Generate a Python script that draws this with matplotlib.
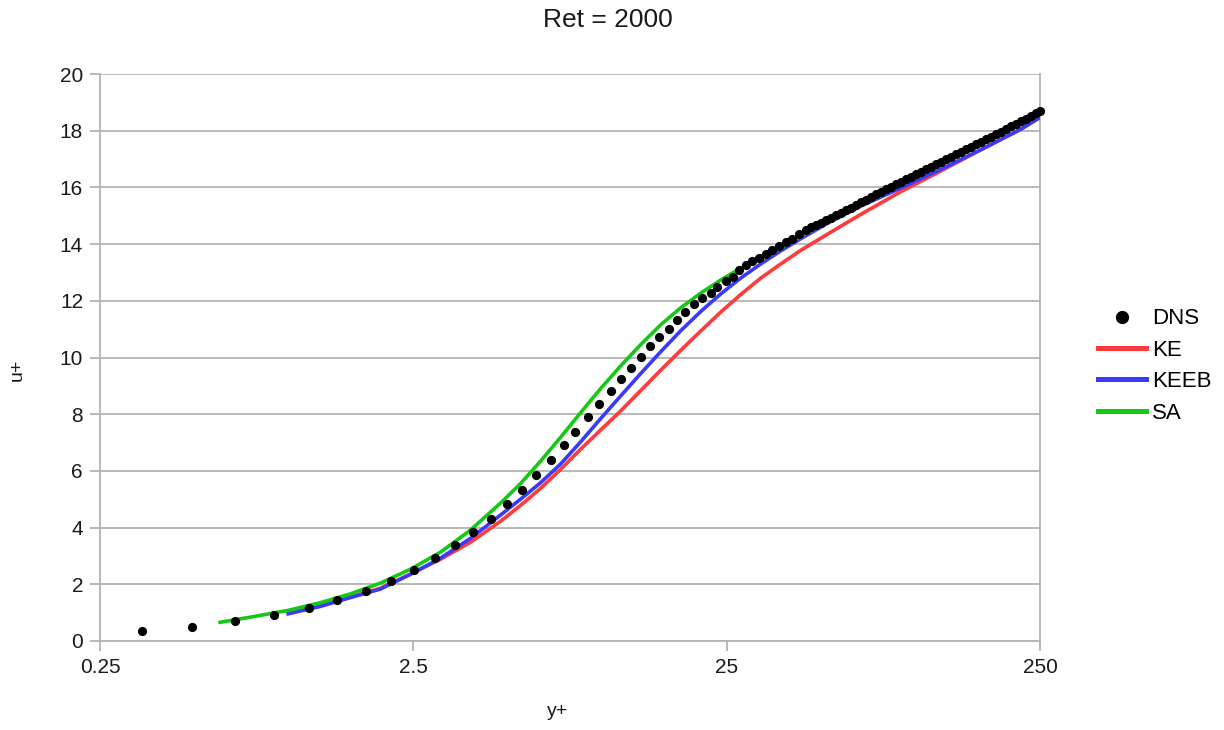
import matplotlib
matplotlib.use("Agg")
import matplotlib.pyplot as plt
from matplotlib.lines import Line2D

plt.rcParams['font.family'] = ['Liberation Sans', 'DejaVu Sans']

title = "Ret = 2000"
x_ticks = [0.25, 2.5, 25, 250]
x_tick_labels = ["0.25", "2.5", "25", "250"]
y_ticks = [0, 2, 4, 6, 8, 10, 12, 14, 16, 18, 20]

dns_y = [0.34, 0.49, 0.675, 0.90, 1.16, 1.43, 1.76, 2.12, 2.51, 2.94, 3.39, 3.88, 4.41,
         4.98, 5.57, 6.18, 6.87, 7.55, 8.23, 9.01, 9.80, 10.65, 11.46, 12.34, 13.37,
         14.22, 15.25, 16.32, 17.3, 18.41, 19.61, 20.9, 22.2, 23.35, 24.8, 26.1, 27.4,
         28.75, 30.2, 31.7, 33.3, 35.0, 36.7, 38.6, 40.5, 42.6,
         44.72, 46.40, 48.14, 49.94, 51.82, 53.76, 55.78, 57.87, 60.04, 62.29, 64.63,
         67.05, 69.57, 72.18, 74.88, 77.69, 80.61, 83.63, 86.77, 90.02, 93.40, 96.90,
         100.5, 104.3, 108.2, 112.3, 116.5, 120.9, 125.4, 130.1, 135.0, 140.1, 145.3,
         150.8, 156.4, 162.3, 168.4, 174.7, 181.2, 188.0, 195.1, 202.4, 210.0, 217.9,
         226.1, 234.5, 243.3, 250.0]
dns_u = [0.36, 0.50, 0.70, 0.91, 1.16, 1.43, 1.77, 2.13, 2.52, 2.94, 3.37, 3.85, 4.31,
         4.83, 5.33, 5.86, 6.40, 6.91, 7.38, 7.89, 8.35, 8.82, 9.24, 9.64, 10.01,
         10.41, 10.72, 11.02, 11.31, 11.60, 11.88, 12.11, 12.29, 12.50, 12.70, 12.85, 13.09,
         13.27, 13.40, 13.52, 13.66, 13.80, 13.93, 14.06, 14.19, 14.35,
         14.50, 14.59, 14.67, 14.76, 14.84, 14.93, 15.01, 15.10, 15.19, 15.29, 15.38,
         15.48, 15.57, 15.66, 15.76, 15.85, 15.94, 16.03, 16.11, 16.20, 16.29, 16.38,
         16.46, 16.55, 16.64, 16.73, 16.82, 16.90, 16.99, 17.08, 17.17, 17.26, 17.34,
         17.43, 17.52, 17.61, 17.70, 17.78, 17.87, 17.96, 18.05, 18.15, 18.24, 18.34,
         18.43, 18.52, 18.62, 18.71]

# model curves: y+ samples shared by the three model lines
model_y = [0.9968, 1.2613, 1.5726, 1.9610, 2.4454, 3.0497, 3.8025, 4.7417, 5.4933,
           6.3633, 7.3725, 8.5417, 9.8945, 11.463, 13.280, 15.386, 17.823, 20.649,
           23.921, 27.713, 32.107, 37.195, 43.09, 53.73, 67.0, 89.9, 120.7, 162.0,
           217.4, 250.0]

ke_u = [0.98, 1.24, 1.55, 1.86, 2.36, 2.88, 3.48, 4.22, 4.78, 5.38, 6.05, 6.76, 7.44,
        8.11, 8.83, 9.55, 10.25, 10.93, 11.60, 12.22, 12.80, 13.30, 13.78, 14.42, 15.05,
        15.85, 16.58, 17.33, 18.05, 18.47]

keeb_u = [0.96, 1.22, 1.53, 1.83, 2.35, 2.92, 3.62, 4.44, 5.00, 5.58, 6.24, 7.02, 7.84,
          8.64, 9.43, 10.20, 10.94, 11.62, 12.24, 12.80, 13.30, 13.76, 14.19, 14.80, 15.34,
          15.98, 16.64, 17.33, 18.06, 18.47]

sa_y = [0.6042, 0.7537] + model_y
sa_u = [0.66, 0.84, 1.08, 1.35, 1.66, 2.04, 2.53, 3.13, 3.91, 4.86, 5.55, 6.34, 7.18,
        8.05, 8.90, 9.70, 10.45, 11.15, 11.75, 12.27, 12.73, 13.15, 13.55, 13.92, 14.28,
        14.83, 15.42, 16.12, 16.83, 17.53, 18.27, 18.63]

c_ke = '#ff3b3b'
c_keeb = '#3a3aff'
c_sa = '#14c814'
grid_c = '#b3b3b3'
txt_c = '#1a1a1a'

fig = plt.figure(figsize=(12.24, 7.30), dpi=100)
ax = fig.add_axes([100 / 1224, 1 - 641 / 730, 940 / 1224, 567 / 730])

lw = 2.6
ax.plot(model_y, ke_u, color=c_ke, lw=lw, zorder=3, solid_joinstyle='round')
ax.plot(model_y, keeb_u, color=c_keeb, lw=lw, zorder=3.1, solid_joinstyle='round')
ax.plot(sa_y, sa_u, color=c_sa, lw=lw, zorder=3.2, solid_joinstyle='round')
ax.plot(dns_y, dns_u, linestyle='none', marker='o', markersize=5.6,
        color='black', zorder=4, clip_on=False)

ax.set_xscale('log')
ax.set_xlim(0.25, 250)
ax.set_ylim(0, 20)
ax.set_xticks(x_ticks)
ax.set_xticklabels(x_tick_labels)
ax.xaxis.set_minor_locator(matplotlib.ticker.NullLocator())
ax.set_yticks(y_ticks)

ax.grid(axis='y', color=grid_c, lw=1.3, zorder=0)
ax.set_axisbelow(True)
ax.spines['top'].set_visible(False)
for s in ['left', 'bottom', 'right']:
    ax.spines[s].set_color(grid_c)
    ax.spines[s].set_linewidth(1.3)
ax.tick_params(axis='both', colors=grid_c, length=7.2, width=1.3, labelcolor=txt_c,
               labelsize=15, direction='out', pad=5)
ax.tick_params(axis='y', right=False)

fig.text(608 / 1224, 1 - 20 / 730, title, ha='center', va='center', fontsize=19, color=txt_c)
fig.text(17 / 1224, 1 - 370 / 730, 'u+', ha='center', va='center', rotation=90,
         fontsize=14, color=txt_c)
fig.text(558 / 1224, 1 - 712 / 730, 'y+', ha='center', va='center', fontsize=14,
         color=txt_c)

handles = [Line2D([], [], linestyle='none', marker='o', markersize=8.5, color='black'),
           Line2D([], [], color=c_ke, lw=3.6),
           Line2D([], [], color=c_keeb, lw=3.6),
           Line2D([], [], color=c_sa, lw=3.6)]
labels = ['DNS', 'KE', 'KEEB', 'SA']
fig.legend(handles, labels, loc='center left', bbox_to_anchor=(1098 / 1224, 1 - 366 / 730),
           frameon=False, fontsize=16, handlelength=2.16, handletextpad=0.27,
           labelspacing=0.47, borderpad=0, borderaxespad=0)

fig.savefig('out.png', dpi=100)
